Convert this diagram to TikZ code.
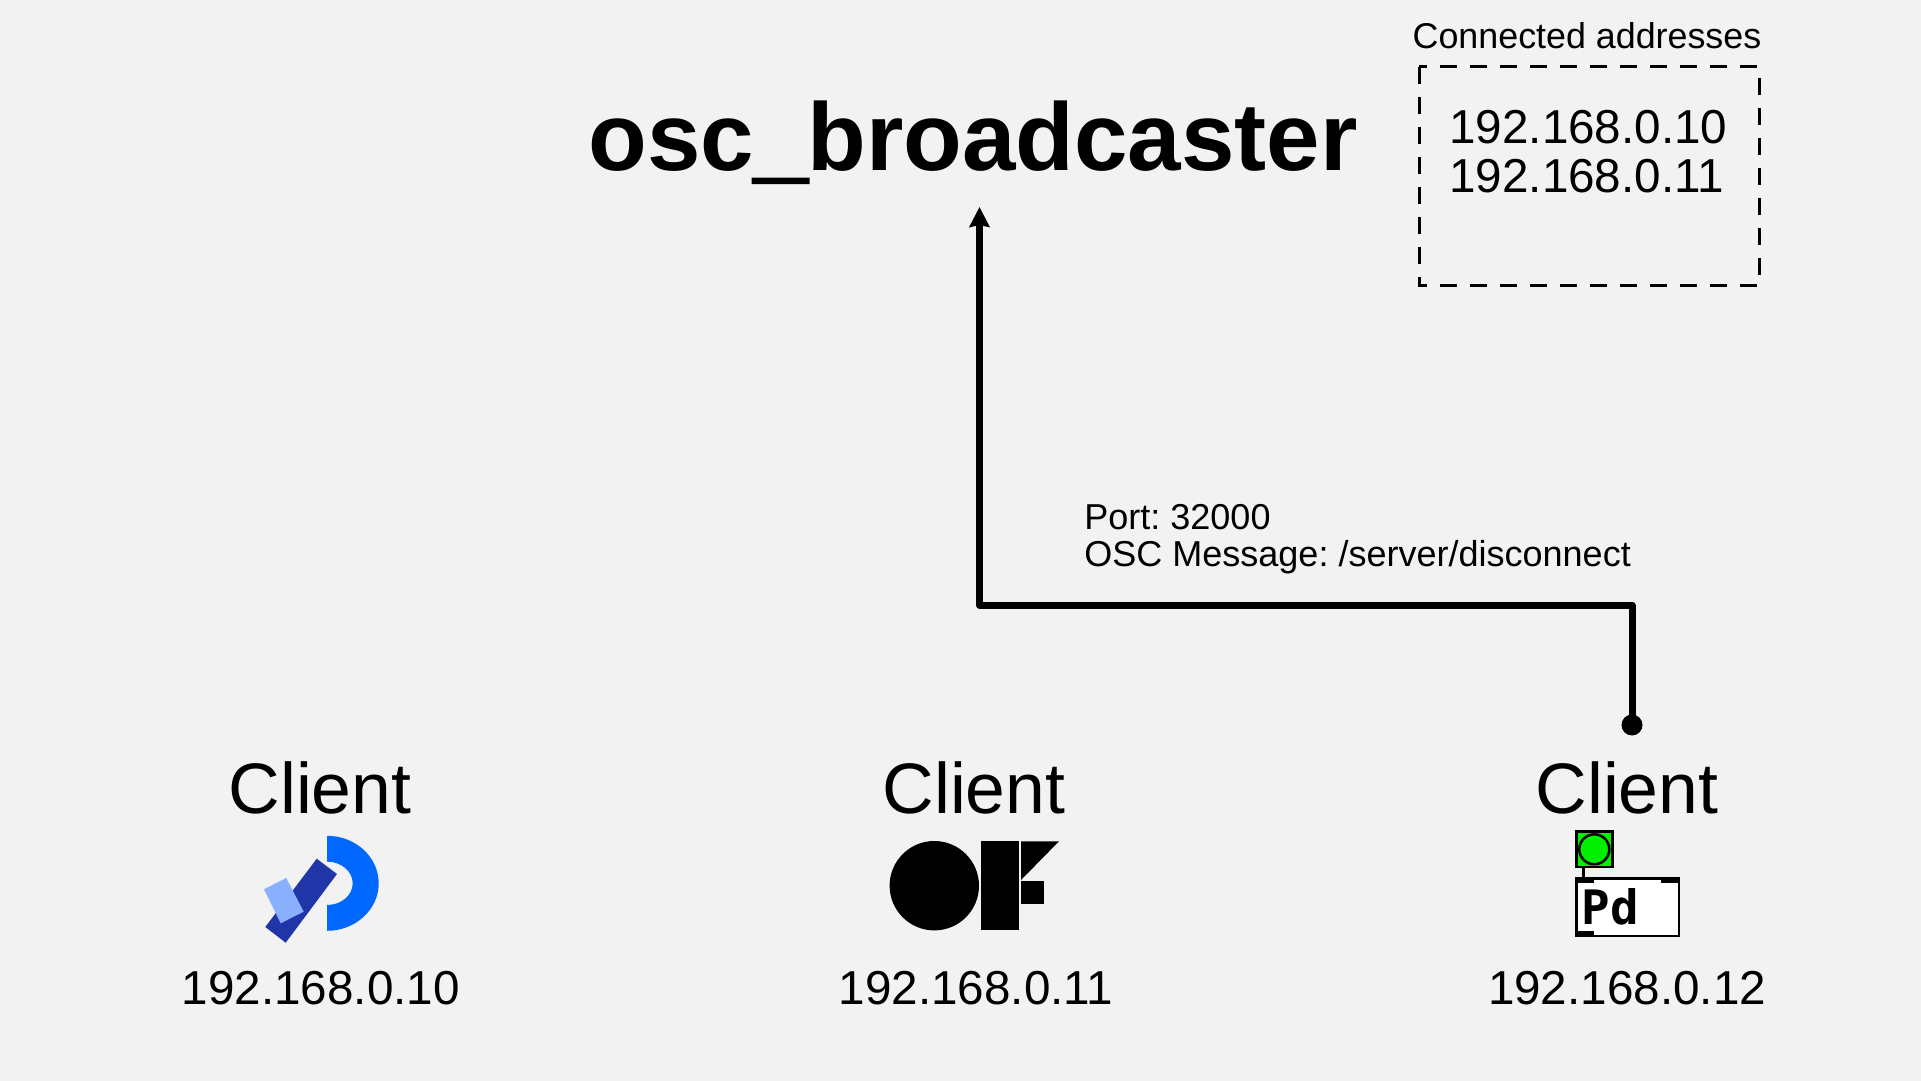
\documentclass[tikz,border=0pt]{standalone}
\usepackage{fontspec}
\setmainfont{Liberation Sans}
\newfontfamily\pdfont{DejaVu Sans Mono}
\usetikzlibrary{arrows.meta}
\definecolor{PageGrey}{RGB}{242,242,242}
\definecolor{DeepBlue}{RGB}{0,104,255}
\definecolor{NavyBlue}{RGB}{31,53,168}
\definecolor{PaleBlue}{RGB}{138,175,255}
\definecolor{LedGreen}{RGB}{0,240,0}
\frenchspacing
\tikzset{
  txt/.style={inner sep=0pt, anchor=base},
  clientlabel/.style={txt, font=\fontsize{40.7}{44}\selectfont},
  iplabel/.style={txt, font=\fontsize{27.1}{28}\selectfont},
  wire/.style={line width=0.14cm, line join=round},
}
\begin{document}
\begin{tikzpicture}[x=0.02cm, y=-0.02cm]
  \fill[PageGrey] (0,0) rectangle (1921,1081);
  \useasboundingbox (0,0) rectangle (1921,1081);

  \node[txt, font=\bfseries\fontsize{54.7}{60}\selectfont] (title) at (973,171) {osc{\addfontfeature{FakeBold=3}\symbol{95}}broadcaster};

  % address box
  \node[txt, font=\fontsize{20.4}{22}\selectfont] (boxtitle) at (1587,49) {Connected addresses};
  \draw[line width=0.06cm, dash pattern=on 0.34cm off 0.26cm] (1419,67) rectangle (1759,286);
  \node[iplabel, anchor=base west] (addrA) at (1449,144) {192.168.0.10};
  \node[iplabel, anchor=base west] (addrB) at (1449,193) {192.168.0.11};

  % clients
  \node[clientlabel] (clientA) at (320,813) {Client};
  \node[clientlabel] (clientB) at (974,813) {Client};
  \node[clientlabel] (clientC) at (1627,813) {Client};
  \node[iplabel] (ipA) at (320.7,1004) {192.168.0.10};
  \node[iplabel] (ipB) at (976,1004) {192.168.0.11};
  \node[iplabel] (ipC) at (1627,1004) {192.168.0.12};

  % message path
  \node[circle, fill=black, inner sep=0pt, minimum size=0.42cm] (pdDot) at (1632,725) {};
  \coordinate (bendA) at (1632,605);
  \coordinate (bendB) at (979.5,605);
  \coordinate (arrowTip) at (979.5,207);
  \draw[wire, -{Stealth[length=0.4cm, width=0.4cm, inset=0.04cm]}] (pdDot.center) -- (bendA) -- (bendB) -- (arrowTip);
  \node[txt, anchor=base west, font=\fontsize{20.5}{21}\selectfont] (portlabel) at (1084,529) {Port: 32000};
  \node[txt, anchor=base west, font=\fontsize{20.5}{21}\selectfont] (msglabel) at (1084,566) {OSC Message: /server/disconnect};

  % first logo
  \fill[DeepBlue] (327,835.8) arc (-90:90:51.7 and 47.5) -- (327,905) arc (90:-90:25.7 and 21.7) -- cycle;
  \fill[NavyBlue] (316.7,858.7) -- (337,874) -- (285.7,942.7) -- (265.3,927) -- cycle;
  \fill[PaleBlue] (286.3,878) -- (303.7,911.7) -- (280.7,923.3) -- (264,889.3) -- cycle;

  % second logo
  \fill (934.3,885.7) circle (44.7);
  \fill (980.7,841.3) rectangle (1019,930.3);
  \fill (1021,841.3) -- (1059,841.3) -- (1021,880) -- cycle;
  \fill (1021,881.3) rectangle (1044,904.3);

  % third logo
  \draw[line width=0.05cm, fill=LedGreen] (1576.3,831.7) rectangle (1612.3,867);
  \draw[line width=0.05cm] (1594.3,849.3) circle (15);
  \draw[line width=0.05cm] (1583.7,867) -- (1583.7,878.3);
  \draw[line width=0.05cm, fill=white] (1576.3,878.3) rectangle (1679,936);
  \fill (1575,877) rectangle (1594.3,883.3);
  \fill (1661.3,877) rectangle (1680,883.3);
  \fill (1575,931) rectangle (1594.3,937);
  \node[txt, anchor=base west, font=\pdfont\bfseries\fontsize{27}{28}\selectfont] (pdlabel) at (1581.5,924) {Pd};
\end{tikzpicture}
\end{document}
